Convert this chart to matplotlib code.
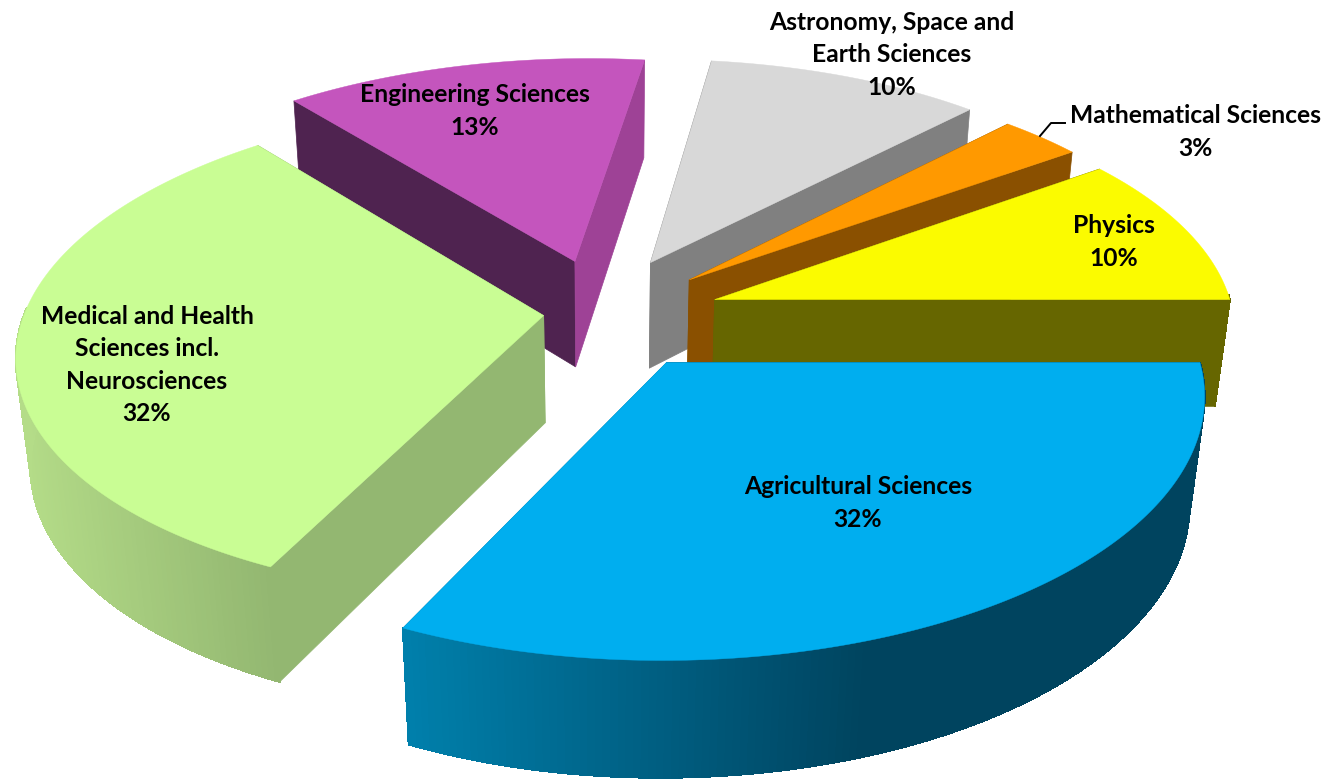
import numpy as np
import matplotlib.pyplot as plt
from matplotlib.colors import to_rgb

# clockwise from the 3 o'clock position
categories = ['Agricultural Sciences', 'Medical and Health\nSciences incl.\nNeurosciences',
              'Engineering Sciences', 'Astronomy, Space and\nEarth Sciences',
              'Mathematical Sciences', 'Physics']
values = [32, 32, 13, 10, 3, 10]
explode = [0.22, 0.12, 0.24, 0.24, 0.22, 0.22]
explode_turn = [0, -8, 0, 5, 2, 0]
top_colors = ['#00AEEF', '#C9FD94', '#C455BD', '#D8D8D8', '#FF9900', '#FBFB00']
start_wall = ['#00445F', '#93B771', '#4F2350', '#808080', '#8A5000', '#666600']
end_wall = ['#0080AC', '#93B771', '#9E4296', '#808080', '#8A5000', '#666600']
rim_left = ['#0080AC', '#B4DC88', '#9E4296', '#808080', '#8A5000', '#666600']
rim_right = ['#00445F', '#93B771', '#9E4296', '#808080', '#8A5000', '#666600']
rim_span = [0.58, 1.0, 1.0, 1.0, 1.0, 1.0]
draw_order = [2, 3, 4, 5, 1, 0]

label_pos = [(858, 503), (147, 365), (475, 111), (892, 55), (1195, 132), (1114, 242)]

W, H = 1329, 781
CX, CY, RX, RY = 606, 316, 520, 244
K, M, DEPTH, SKEW = 0.135, 0.025, 110, 12


def project(x, y, drop=0.0):
    w = 1 + K * y + M * drop
    return CX + (RX * x + SKEW * y) / w, CY - (RY * y - DEPTH * drop) / w


def wedge_arc(a0, a1, off, n=160):
    t = np.radians(np.linspace(a0, a1, n))
    return np.cos(t) + off[0], np.sin(t) + off[1], t


def draw_slice(ax, i, a0, a1):
    mid = np.radians((a0 + a1) / 2 + explode_turn[i])
    off = (explode[i] * np.cos(mid), explode[i] * np.sin(mid))
    xs, ys, t = wedge_arc(a0, a1, off)

    # radial walls first, the rim and the top face cover what is behind them
    for xr, yr, col in [(xs[0], ys[0], start_wall[i]), (xs[-1], ys[-1], end_wall[i])]:
        px, py = project(np.array([off[0], xr, xr, off[0]]), np.array([off[1], yr, yr, off[1]]),
                         np.array([0, 0, 1, 1]))
        ax.fill(px, py, color=col, lw=0.5)

    tx, ty = project(xs, ys)
    bx, by = project(xs, ys, 1)
    c0, c1 = np.array(to_rgb(rim_left[i])), np.array(to_rgb(rim_right[i]))
    lo, hi = tx.min(), tx.min() + rim_span[i] * (tx.max() - tx.min())
    for j in range(len(xs) - 1):
        # only the part of the rim that faces the viewer
        if np.sin(t[j]) > 0.02:
            continue
        f = np.clip((tx[j] - lo) / (hi - lo), 0, 1)
        ax.fill([tx[j], tx[j + 1], bx[j + 1], bx[j]], [ty[j], ty[j + 1], by[j + 1], by[j]],
                color=c0 + (c1 - c0) * f, lw=0.8, antialiased=False)

    ax0, ay0 = project(off[0], off[1])
    ax.fill(np.r_[ax0, tx], np.r_[ay0, ty], color=top_colors[i], lw=0.3)


fig, ax = plt.subplots(figsize=(W / 100, H / 100), dpi=100)
fig.subplots_adjust(0, 0, 1, 1)
ax.set_xlim(0, W)
ax.set_ylim(H, 0)
ax.axis('off')

sweeps = np.array(values) / sum(values) * 360
ends = -np.cumsum(sweeps)
starts = ends + sweeps
for i in draw_order:
    draw_slice(ax, i, starts[i], ends[i])

# leader for the small slice
ax.plot([1040, 1051, 1065], [136, 123, 123], color='black', lw=1.4)

for name, val, (lx, ly) in zip(categories, values, label_pos):
    ax.text(lx, ly, f'{name}\n{val}%', ha='center', va='center', family='Lato',
            weight='bold', fontsize=17.7, color='black', linespacing=1.5)

fig.savefig('out.png', dpi=100)
